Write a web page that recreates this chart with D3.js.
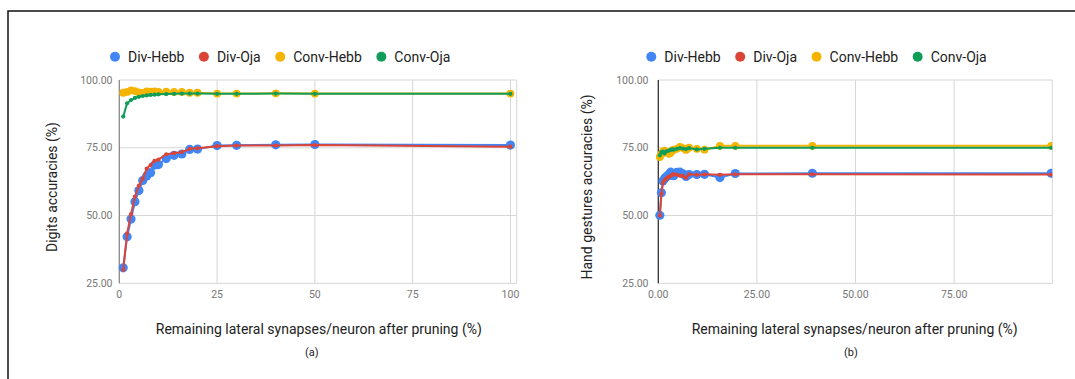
<!DOCTYPE html>
<html>
<head>
<meta charset="UTF-8">
<title>Pruning accuracies</title>
<script src="https://d3js.org/d3.v7.min.js"></script>
<style>
  * { margin: 0; padding: 0; }
  body { background: #fff; width: 1075px; height: 379px; overflow: hidden; font-family: Roboto, 'Noto Sans', sans-serif; }
  svg { display: block; }
  .tick-label { fill: #777; font-size: 10.5px; }
  .title { fill: #222; font-size: 14px; }
  .legend-text { fill: #222; font-size: 14px; }
  .caption { fill: #222; font-size: 11px; }
</style>
</head>
<body>
<svg id="fig" width="1075" height="379"></svg>
<script>
// series names
const seriesNames = ['Div-Hebb', 'Div-Oja', 'Conv-Hebb', 'Conv-Oja'];

// (a) digits: remaining synapses (%)
const digitsX = [1, 2, 3, 4, 5, 6, 7, 8, 9, 10, 12, 14, 16, 18, 20, 25, 30, 40, 50, 100];
const digitsDivHebb = [30.7, 42.2, 48.7, 55.1, 59.2, 62.9, 64.6, 65.8, 68.6, 68.8, 71.0, 72.2, 72.7, 74.4, 74.5, 75.8, 75.9, 76.1, 76.2, 76.0];
const digitsDivOja = [30.0, 43.4, 50.5, 57.0, 61.0, 63.6, 67.3, 68.6, 70.2, 70.6, 72.6, 73.0, 73.4, 74.6, 74.8, 75.6, 75.8, 75.8, 76.0, 75.4];
const digitsConvHebb = [95.3, 95.6, 96.2, 95.9, 95.4, 95.2, 95.8, 95.7, 95.8, 95.6, 95.7, 95.6, 95.6, 95.3, 95.3, 95.0, 95.0, 95.1, 95.0, 95.0];
const digitsConvOja = [86.5, 91.4, 92.6, 93.4, 93.8, 94.1, 94.3, 94.5, 94.6, 94.7, 94.8, 94.9, 95.0, 95.0, 95.0, 94.9, 94.9, 95.0, 94.9, 94.9];

// (b) hand gestures: remaining synapses (%)
const gestX = [0.39, 0.78, 1.17, 1.56, 1.95, 2.34, 2.73, 3.13, 3.52, 3.91, 4.69, 5.47, 6.25, 7.03, 7.81, 9.77, 11.72, 15.63, 19.53, 39.06, 99.61];
const gestDivHebb = [50.1, 58.4, 62.7, 63.6, 64.2, 64.6, 65.2, 66.0, 64.8, 64.7, 65.9, 66.0, 65.4, 64.4, 65.1, 65.1, 65.2, 64.0, 65.5, 65.6, 65.6];
const gestDivOja = [50.0, 58.0, 62.0, 63.0, 63.5, 64.0, 64.3, 64.6, 65.0, 65.3, 65.0, 64.7, 64.6, 63.9, 65.2, 65.0, 65.2, 65.0, 65.2, 65.2, 65.1];
const gestConvHebb = [71.6, 72.6, 73.7, 73.9, 73.5, 73.2, 72.8, 73.2, 74.0, 74.3, 74.6, 75.3, 74.9, 74.2, 75.0, 74.6, 74.3, 75.7, 75.7, 75.7, 75.7];
const gestConvOja = [72.2, 73.4, 73.6, 72.9, 73.6, 73.8, 74.0, 74.2, 74.4, 74.3, 74.6, 74.9, 74.7, 74.5, 74.9, 74.4, 74.6, 75.0, 75.0, 75.0, 75.0];

// ticks
const yTicks = [25, 50, 75, 100];
const digitsXTicks = [0, 25, 50, 75, 100];
const gestXTicks = [0, 25, 50, 75];

// look of each series: colour, marker radius
const colors = ['#4285F4', '#DB4437', '#F4B400', '#0F9D58'];
const markerR = [4.6, 2.1, 3.9, 2.1];

const svg = d3.select('#fig');

// figure frame (only left and top edges are in view)
svg.append('path')
  .attr('d', 'M8,379 L8,11 L1075,11')
  .attr('fill', 'none')
  .attr('stroke', '#111')
  .attr('stroke-width', 1.5);

function drawPanel(p) {
  const g = svg.append('g');
  const x = d3.scaleLinear().domain(p.xDomain).range([p.left, p.right]);
  const y = d3.scaleLinear().domain([25, 100]).range([p.bottom, p.top]);

  // horizontal gridlines
  g.selectAll('.hgrid').data(yTicks).enter().append('line')
    .attr('x1', p.left).attr('x2', p.right)
    .attr('y1', d => y(d)).attr('y2', d => y(d))
    .attr('stroke', '#d6d6d6').attr('stroke-width', 1);

  // vertical gridlines (not at zero, baseline drawn there)
  g.selectAll('.vgrid').data(p.xTicks.filter(d => d > 0)).enter().append('line')
    .attr('x1', d => x(d)).attr('x2', d => x(d))
    .attr('y1', p.top).attr('y2', p.bottom)
    .attr('stroke', '#d6d6d6').attr('stroke-width', 1);
  g.append('line')
    .attr('x1', p.right).attr('x2', p.right)
    .attr('y1', p.top).attr('y2', p.bottom)
    .attr('stroke', '#d6d6d6').attr('stroke-width', 1);

  // baseline at x = 0
  g.append('line')
    .attr('x1', x(0)).attr('x2', x(0))
    .attr('y1', p.top).attr('y2', p.bottom)
    .attr('stroke', p.baseColor).attr('stroke-width', 1.3);

  // tick labels
  g.selectAll('.ylab').data(yTicks).enter().append('text')
    .attr('class', 'tick-label')
    .attr('x', p.yLabelX).attr('y', d => y(d))
    .attr('dy', '0.35em')
    .attr('text-anchor', 'end')
    .text(d => d3.format('.2f')(d));

  g.selectAll('.xlab').data(p.xTicks).enter().append('text')
    .attr('class', 'tick-label')
    .attr('x', d => x(d)).attr('y', p.bottom + 11)
    .attr('dy', '0.35em')
    .attr('text-anchor', 'middle')
    .text(d => p.xFormat(d));

  // clip so the edge markers get cut like the original
  const clipId = 'clip-' + p.id;
  svg.append('clipPath').attr('id', clipId)
    .append('rect')
    .attr('x', p.left - 8).attr('y', p.top - 8)
    .attr('width', p.right - p.left + 8).attr('height', p.bottom - p.top + 16);

  const plot = g.append('g').attr('clip-path', `url(#${clipId})`);
  const line = d3.line().x(d => x(d[0])).y(d => y(d[1]));

  p.series.forEach((vals, i) => {
    const pts = p.xs.map((xv, j) => [xv, vals[j]]);
    plot.append('path')
      .datum(pts)
      .attr('d', line)
      .attr('fill', 'none')
      .attr('stroke', colors[i])
      .attr('stroke-width', 2)
      .attr('stroke-linejoin', 'round');
    plot.selectAll('.pt' + i).data(pts).enter().append('circle')
      .attr('cx', d => x(d[0]))
      .attr('cy', d => y(d[1]))
      .attr('r', markerR[i])
      .attr('fill', colors[i]);
  });

  // legend
  let lx = p.legendX;
  seriesNames.forEach((name, i) => {
    g.append('circle')
      .attr('cx', lx).attr('cy', 56.7).attr('r', 5)
      .attr('fill', colors[i]);
    const t = g.append('text')
      .attr('class', 'legend-text')
      .attr('x', lx + 13).attr('y', 56.7)
      .attr('dy', '0.35em')
      .text(name);
    lx += 13 + t.node().getComputedTextLength() + 19.5;
  });

  // axis titles
  g.append('text')
    .attr('class', 'title')
    .attr('transform', `translate(${p.yTitleX},187) rotate(-90)`)
    .attr('text-anchor', 'middle')
    .attr('dy', '0.35em')
    .text(p.yTitle);

  g.append('text')
    .attr('class', 'title')
    .attr('x', p.xTitleX).attr('y', 329)
    .attr('dy', '0.35em')
    .attr('text-anchor', 'middle')
    .text('Remaining lateral synapses/neuron after pruning (%)');

  g.append('text')
    .attr('class', 'caption')
    .attr('x', p.captionX).attr('y', 352.5)
    .attr('dy', '0.35em')
    .attr('text-anchor', 'middle')
    .text(p.caption);
}

drawPanel({
  id: 'a',
  left: 119.3, right: 516.7, top: 80, bottom: 283.3,
  xDomain: [0, 101.6],
  xTicks: digitsXTicks,
  xFormat: d3.format('d'),
  xs: digitsX,
  series: [digitsDivHebb, digitsDivOja, digitsConvHebb, digitsConvOja],
  baseColor: '#8a8a8a',
  yLabelX: 112.5,
  legendX: 115,
  yTitleX: 51.7,
  yTitle: 'Digits accuracies (%)',
  xTitleX: 318.8,
  caption: '(a)',
  captionX: 311.7
});

drawPanel({
  id: 'b',
  left: 658.3, right: 1052.3, top: 80, bottom: 283.3,
  xDomain: [0, 99.9],
  xTicks: gestXTicks,
  xFormat: d3.format('.2f'),
  xs: gestX,
  series: [gestDivHebb, gestDivOja, gestConvHebb, gestConvOja],
  baseColor: '#333',
  yLabelX: 648.5,
  legendX: 651.3,
  yTitleX: 587.3,
  yTitle: 'Hand gestures accuracies (%)',
  xTitleX: 854.7,
  caption: '(b)',
  captionX: 851
});
</script>
</body>
</html>
